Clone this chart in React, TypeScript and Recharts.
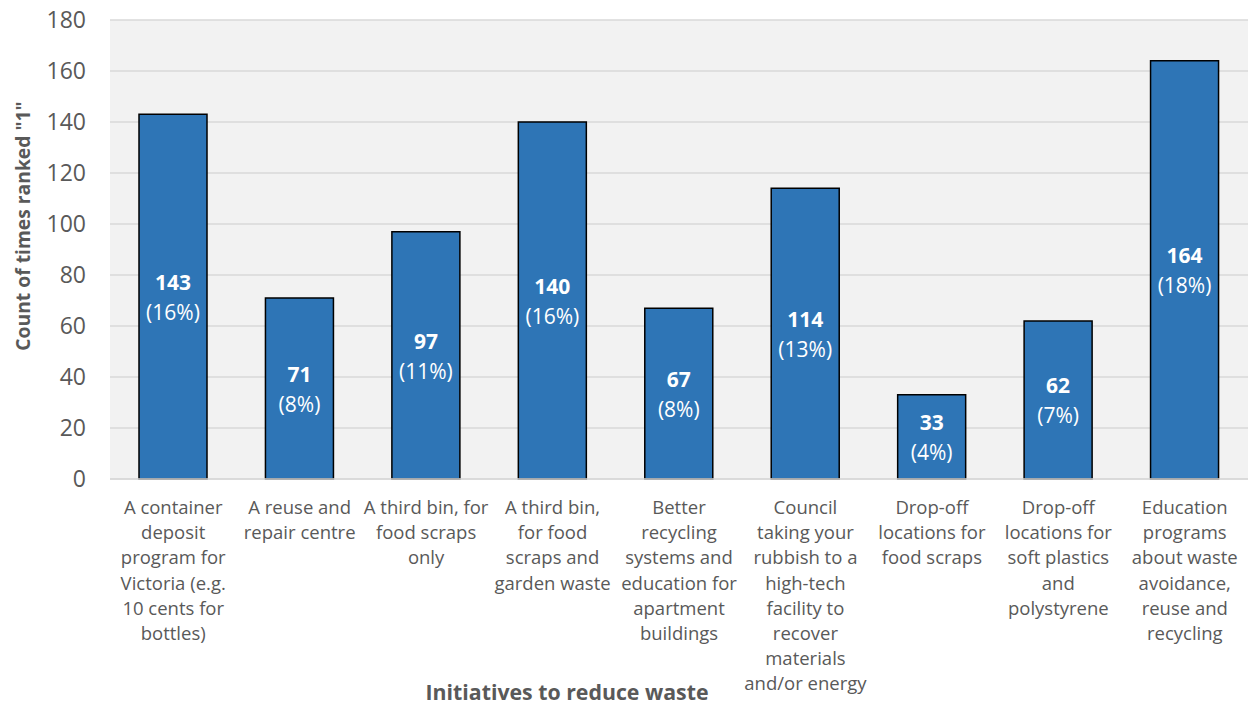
import React from "react";
import {
  BarChart,
  Bar,
  XAxis,
  YAxis,
  CartesianGrid,
  LabelList,
} from "recharts";

// Categories, with line breaks as in the original chart
const categories = [
  "A container\ndeposit\nprogram for\nVictoria (e.g.\n10 cents for\nbottles)",
  "A reuse and\nrepair centre",
  "A third bin, for\nfood scraps\nonly",
  "A third bin,\nfor food\nscraps and\ngarden waste",
  "Better\nrecycling\nsystems and\neducation for\napartment\nbuildings",
  "Council\ntaking your\nrubbish to a\nhigh-tech\nfacility to\nrecover\nmaterials\nand/or energy",
  "Drop-off\nlocations for\nfood scraps",
  "Drop-off\nlocations for\nsoft plastics\nand\npolystyrene",
  "Education\nprograms\nabout waste\navoidance,\nreuse and\nrecycling",
];

const counts = [143, 71, 97, 140, 67, 114, 33, 62, 164];
const percents = ["16%", "8%", "11%", "16%", "8%", "13%", "4%", "7%", "18%"];
const yTicks = [0, 20, 40, 60, 80, 100, 120, 140, 160, 180];

const data = categories.map((name, i) => ({
  name,
  value: counts[i],
  pct: percents[i],
}));

const FONT = "'Open Sans', 'Noto Sans', sans-serif";
const TEXT = "#595959";

const XTick = (props: any) => {
  const { x, y, payload } = props;
  const lines = String(payload.value).split("\n");
  return (
    <text
      x={x}
      y={y}
      textAnchor="middle"
      fill={TEXT}
      fontSize={18.5}
      fontFamily={FONT}
    >
      {lines.map((l, i) => (
        <tspan key={i} x={x} dy={i === 0 ? 27 : 25.2}>
          {l}
        </tspan>
      ))}
    </text>
  );
};

const BarLabel = (props: any) => {
  const { x, y, width, height, index } = props;
  const cx = x + width / 2;
  const cy = y + height / 2;
  const d = data[index];
  return (
    <g fontFamily={FONT} fill="#ffffff">
      <text x={cx} y={cy - 15} dy={8.5} textAnchor="middle" fontSize={21} fontWeight={700}>
        {d.value}
      </text>
      <text x={cx} y={cy + 15} dy={8.5} textAnchor="middle" fontSize={21}>
        ({d.pct})
      </text>
    </g>
  );
};

const App: React.FC = () => {
  return (
    <div style={{ position: "absolute", left: 0, top: 0, background: "#fff" }}>
      <BarChart
        width={1250}
        height={707}
        data={data}
        margin={{ top: 20, right: 2, left: 0, bottom: 0 }}
      >
        <CartesianGrid
          vertical={false}
          stroke="#D9D9D9"
          strokeWidth={1.5}
          fill="#F2F2F2"
        />
        <XAxis
          dataKey="name"
          height={228}
          interval={0}
          tickLine={false}
          axisLine={{ stroke: "#D9D9D9", strokeWidth: 1.5 }}
          tick={<XTick />}
          label={() => (
            <text
              x={567}
              y={700}
              textAnchor="middle"
              fill={TEXT}
              fontSize={21.3}
              fontWeight={700}
              fontFamily={FONT}
            >
              Initiatives to reduce waste
            </text>
          )}
        />
        <YAxis
          width={110}
          domain={[0, 180]}
          ticks={yTicks}
          axisLine={false}
          tickLine={false}
          tickMargin={18}
          tick={{ fill: TEXT, fontSize: 23, fontFamily: FONT }}
          label={() => (
            <text
              x={22}
              y={226}
              transform="rotate(-90 22 226)"
              textAnchor="middle"
              dominantBaseline="central"
              fill={TEXT}
              fontSize={19.3}
              fontWeight={700}
              fontFamily={FONT}
            >
              Count of times ranked "1"
            </text>
          )}
        />
        <Bar
          dataKey="value"
          fill="#2E75B6"
          stroke="#000000"
          strokeWidth={1.5}
          barSize={68}
          isAnimationActive={false}
        >
          <LabelList dataKey="value" content={<BarLabel />} />
        </Bar>
      </BarChart>
    </div>
  );
};

export default App;
